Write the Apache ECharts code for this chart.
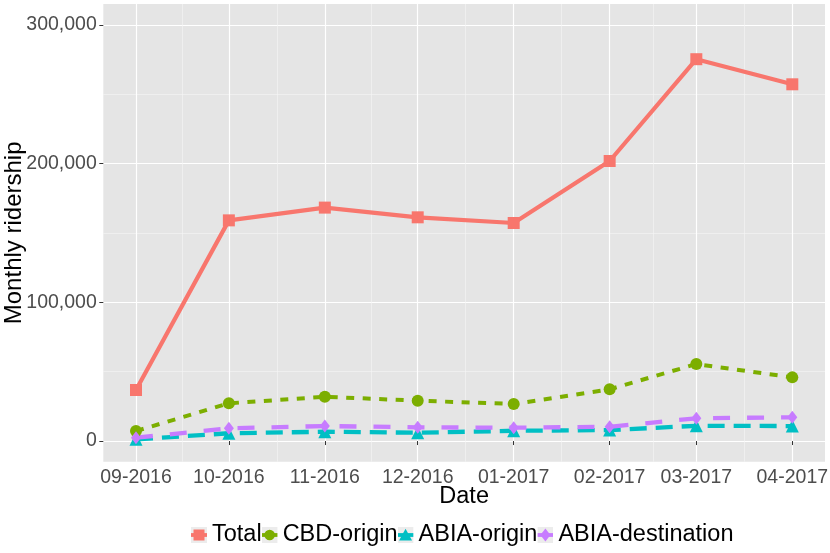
<!DOCTYPE html>
<html lang="en">
<head>
<meta charset="UTF-8">
<title>Monthly ridership</title>
<style>
  html, body { margin: 0; height: 100%; background: #ffffff; }
  #chart { width: 830px; height: 553px; }
</style>
</head>
<body>
<div id="chart"></div>
<script src="https://cdn.jsdelivr.net/npm/echarts@6/dist/echarts.min.js"></script>
<script>
// data
var months = ['2016-09-01', '2016-10-01', '2016-11-01', '2016-12-01',
              '2017-01-01', '2017-02-01', '2017-03-01', '2017-04-01'];
var total      = [36800, 159100, 168300, 161300, 157200, 201900, 275300, 257200];
var cbdOrigin  = [7200, 27200, 31900, 29100, 26700, 37300, 55500, 45900];
var abiaOrigin = [1200, 5600, 6700, 6000, 7400, 7900, 11000, 10800];
var abiaDest   = [2400, 9200, 10800, 9900, 9600, 10300, 16400, 17100];
var yTicks = [0, 100000, 200000, 300000];
var yMinor = [50000, 150000, 250000];

var colors = { total: '#F8766D', cbd: '#7CAE00', origin: '#00BFC4', dest: '#C77CFF' };
var font = 'Liberation Sans, Arial, Helvetica, sans-serif';

// x is a date scale (months have different lengths), kept as day numbers
var DAY = 24 * 3600 * 1000;
var ts = months.map(function (m) { return Date.UTC(+m.slice(0, 4), +m.slice(5, 7) - 1, 1) / DAY; });
var pad = 10.56;
var xMin = ts[0] - pad, xMax = ts[ts.length - 1] + pad;
var xMinor = [];
for (var i = 0; i < ts.length - 1; i++) xMinor.push((ts[i] + ts[i + 1]) / 2);

function pairs(vals) {
    return ts.map(function (t, i) { return [t, vals[i]]; });
}

// legend keys like ggplot: grey box, line through, point on top
function keyIcon(shape, c) {
    var s = "<svg xmlns='http://www.w3.org/2000/svg' width='16' height='16'>" +
        "<rect width='16' height='16' fill='#ececec'/>" +
        "<rect x='0' y='6.1' width='16' height='3.8' fill='" + c + "'/>" + shape.replace('C', c) + "</svg>";
    return 'image://data:image/svg+xml;charset=utf-8,' + encodeURIComponent(s);
}
var shapes = {
    square: "<rect x='2.5' y='2.5' width='11' height='11' fill='C'/>",
    circle: "<circle cx='8' cy='8' r='5.3' fill='C'/>",
    triangle: "<polygon points='8,1.8 14.5,13.5 1.5,13.5' fill='C'/>",
    diamond: "<polygon points='8,1.5 13,8 8,14.5 3,8' fill='C'/>"
};

function fmtMonth(v) {
    var d = new Date(Math.round(v) * DAY);
    var m = d.getUTCMonth() + 1;
    return (m < 10 ? '0' + m : '' + m) + '-' + d.getUTCFullYear();
}

var chart = echarts.init(document.getElementById('chart'));

var option = {
    animation: false,
    textStyle: { fontFamily: font },
    grid: {
        left: 103.3, right: 5, top: 4, bottom: 91.3,
        outerBoundsMode: 'none', containLabel: false,
        show: true, backgroundColor: '#e5e5e5', borderWidth: 0
    },
    legend: {
        left: 186, top: 518,
        itemWidth: 16, itemHeight: 16, itemGap: 0,
        textStyle: { fontSize: 23.5, color: '#000', fontFamily: font },
        data: [
            { name: 'Total', icon: keyIcon(shapes.square, colors.total) },
            { name: 'CBD-origin', icon: keyIcon(shapes.circle, colors.cbd) },
            { name: 'ABIA-origin', icon: keyIcon(shapes.triangle, colors.origin) },
            { name: 'ABIA-destination', icon: keyIcon(shapes.diamond, colors.dest) }
        ]
    },
    xAxis: [{
        type: 'value', min: xMin, max: xMax,
        name: 'Date', nameLocation: 'middle', nameGap: 23, nameMoveOverlap: false,
        nameTextStyle: { fontSize: 23.5, color: '#000', fontFamily: font },
        axisLine: { show: false },
        axisTick: { show: true, length: 4, customValues: ts, lineStyle: { color: '#333', width: 1 } },
        axisLabel: {
            customValues: ts, fontSize: 19.5, color: '#4d4d4d', margin: 6,
            fontFamily: font, formatter: fmtMonth
        },
        splitLine: { show: true, lineStyle: { color: '#ffffff', width: 1.2 } }
    }, {
        type: 'value', min: xMin, max: xMax, gridIndex: 0,
        axisLine: { show: false }, axisLabel: { show: false },
        axisTick: { show: false, customValues: xMinor },
        splitLine: { show: true, lineStyle: { color: '#f5f5f5', width: 0.6 } }
    }],
    yAxis: [{
        type: 'value', min: -14900, max: 315100,
        name: 'Monthly ridership', nameLocation: 'middle', nameGap: 77, nameMoveOverlap: false,
        nameTextStyle: { fontSize: 24, color: '#000', fontFamily: font },
        axisLine: { show: false },
        axisTick: { show: true, length: 4, customValues: yTicks, lineStyle: { color: '#333', width: 1 } },
        axisLabel: {
            customValues: yTicks, fontSize: 19.5, color: '#4d4d4d', margin: 6.5, fontFamily: font,
            formatter: function (v) { return Number(v).toLocaleString('en-US'); }
        },
        splitLine: { show: true, lineStyle: { color: '#ffffff', width: 1.2 } }
    }, {
        type: 'value', min: -14900, max: 315100,
        axisLine: { show: false }, axisLabel: { show: false },
        axisTick: { show: false, customValues: yMinor },
        splitLine: { show: true, lineStyle: { color: '#f5f5f5', width: 0.6 } }
    }],
    series: [
        {
            name: 'Total', type: 'line', data: pairs(total),
            symbol: 'rect', symbolSize: 12,
            lineStyle: { color: colors.total, width: 4.2 },
            itemStyle: { color: colors.total }
        },
        {
            name: 'CBD-origin', type: 'line', data: pairs(cbdOrigin),
            symbol: 'circle', symbolSize: 12,
            lineStyle: { color: colors.cbd, width: 4, type: [8, 8.5], cap: 'butt' },
            itemStyle: { color: colors.cbd }
        },
        {
            name: 'ABIA-origin', type: 'line', data: pairs(abiaOrigin),
            symbol: 'triangle', symbolSize: 13,
            lineStyle: { color: colors.origin, width: 4.3, type: [17, 9], cap: 'butt' },
            itemStyle: { color: colors.origin }
        },
        {
            name: 'ABIA-destination', type: 'line', data: pairs(abiaDest),
            symbol: 'diamond', symbolSize: [10, 13],
            lineStyle: { color: colors.dest, width: 4.3, type: [17, 17], cap: 'butt' },
            itemStyle: { color: colors.dest }
        }
    ]
};

chart.setOption(option);
</script>
</body>
</html>
